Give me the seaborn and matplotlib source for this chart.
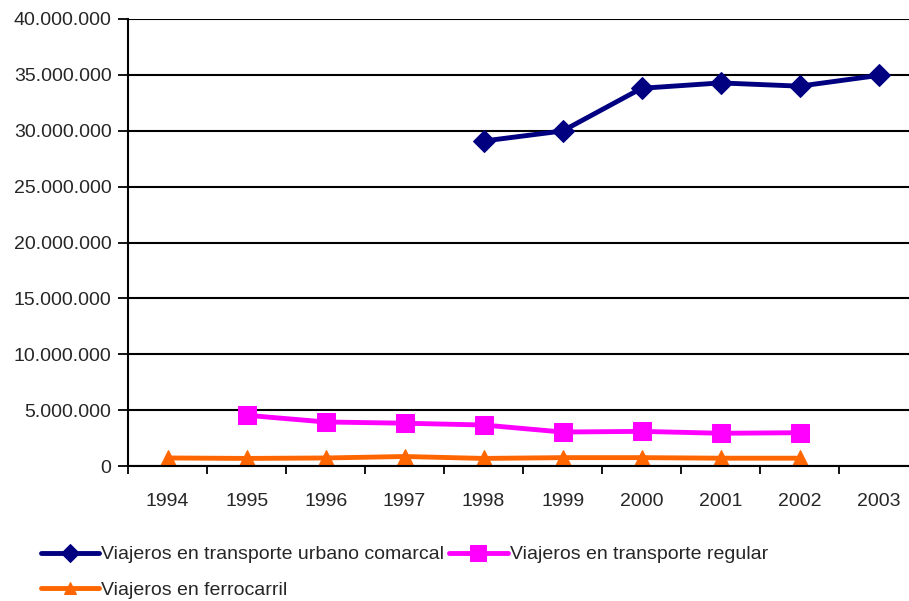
import numpy as np
import pandas as pd
import matplotlib
matplotlib.use("Agg")
import matplotlib.pyplot as plt
import matplotlib.ticker as mticker
import seaborn as sns

# Datos
anios = ["1994", "1995", "1996", "1997", "1998", "1999", "2000", "2001", "2002", "2003"]
urbano = [np.nan, np.nan, np.nan, np.nan, 29080000, 29980000, 33800000, 34280000, 33990000, 34950000]
regular = [np.nan, 4540000, 3940000, 3830000, 3670000, 3040000, 3100000, 2930000, 2980000, np.nan]
ferrocarril = [720000, 680000, 720000, 850000, 680000, 750000, 750000, 700000, 700000, np.nan]

series = [
    ("Viajeros en transporte urbano comarcal", urbano, "#000080", "D", 11),
    ("Viajeros en transporte regular", regular, "#FF00FF", "s", 13),
    ("Viajeros en ferrocarril", ferrocarril, "#FF6600", "^", 11),
]

sns.set_style("white")
plt.rcParams['font.family'] = ['Liberation Sans', 'DejaVu Sans']

fig = plt.figure(figsize=(9.09, 6.01), dpi=100)
ax = fig.add_axes([0.141, 0.2246, 0.859, 0.7438])

x = np.arange(len(anios))
for nombre, valores, color, marcador, tam in series:
    df = pd.DataFrame({"x": x, "y": valores}).dropna()
    sns.lineplot(data=df, x="x", y="y", ax=ax, color=color, linewidth=3.5,
                 marker=marcador, markersize=tam, markeredgecolor=color,
                 label=nombre, legend=False)

ax.yaxis.set_major_locator(mticker.MultipleLocator(5000000))
ax.yaxis.set_major_formatter(mticker.FuncFormatter(lambda v, p: f"{int(v):,}".replace(",", ".")))
ax.set_xticks(x)
ax.set_xticklabels(anios)
ax.set_xticks(np.arange(-0.5, 9.0, 1), minor=True)
ax.set_ylim(0, 40000000)
ax.set_xlim(-0.5, 9.386)
ax.tick_params(axis="x", which="major", bottom=False, pad=16, labelsize=14)
ax.tick_params(axis="x", which="minor", bottom=True, length=6, width=1.3,
               color="black", direction="out")
ax.tick_params(axis="y", left=True, length=7, width=1.3, color="black",
               direction="out", labelsize=14, pad=5)
ax.set_xlabel("")
ax.set_ylabel("")
ax.grid(True, axis="y", color="black", linewidth=1.5)
ax.set_axisbelow(True)
for s in ["top", "right"]:
    ax.spines[s].set_visible(False)
for s in ["left", "bottom"]:
    ax.spines[s].set_color("black")
    ax.spines[s].set_linewidth(1.5)

# orden para que la primera fila tenga urbano y regular
handles, labels = ax.get_legend_handles_labels()
orden = [0, 2, 1]
fig.legend([handles[i] for i in orden], [labels[i] for i in orden],
           loc="lower left", bbox_to_anchor=(0.026, -0.025), ncol=2,
           frameon=False, fontsize=14, handlelength=3.0, handletextpad=0.1,
           columnspacing=0.25, labelspacing=0.9, markerscale=0.85)

plt.savefig("out.png", dpi=100)
